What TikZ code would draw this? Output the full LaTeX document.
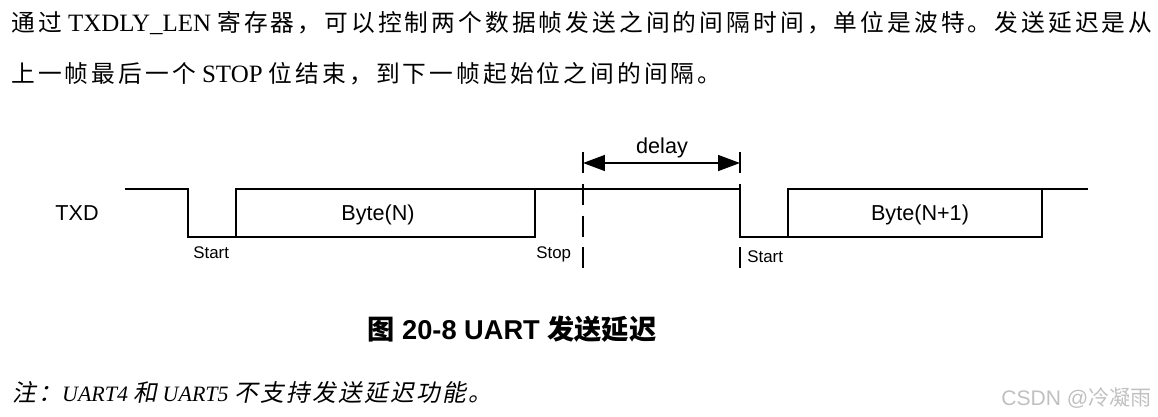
\documentclass[tikz,border=0pt]{standalone}
\usepackage{fontspec}
\setmainfont{Liberation Serif}
\setsansfont{Liberation Sans}
\newfontfamily\cjk{Noto Sans CJK SC}[LetterSpace=13]
\newfontfamily\cjkit{Noto Sans CJK SC}[LetterSpace=10, FakeSlant=0.2]
\newfontfamily\cjkplain{Noto Sans CJK SC}
\usetikzlibrary{arrows.meta}
\definecolor{wmgray}{RGB}{192,192,192}
\tikzset{
  sigln/.style={line width=1.15pt, line join=miter},
  gapln/.style={line width=1.3pt, dash pattern=on 11.9pt off 6.2pt},
  delayarr/.style={{Triangle[length=12.5pt,width=9pt]}-{Triangle[length=12.5pt,width=9pt]},
    line width=1.2pt},
  sigtxt/.style={font=\sffamily\fontsize{12.3pt}{14pt}\selectfont, inner sep=0pt},
  bittxt/.style={font=\sffamily\fontsize{9.6pt}{11pt}\selectfont, inner sep=0pt},
  bodytxt/.style={font=\fontsize{14.2pt}{17pt}\selectfont, inner sep=0pt, anchor=base west},
}
\newcommand{\zh}[1]{{\fontsize{13.5pt}{16pt}\selectfont\cjk #1}}
\newcommand{\zhit}[1]{{\fontsize{13.5pt}{16pt}\selectfont\cjkit #1}}

\begin{document}
\begin{tikzpicture}[x=0.02cm, y=-0.02cm]
    \useasboundingbox (0,0) rectangle (1158,416);
    % intro paragraph
    \node[bodytxt] (introa) at (11,31.7)
      {\zh{通过} TXDLY\_LEN \zh{寄存器，可以控制两个数据帧发送之间的间隔时间，单位是波特。发送延迟是从}};
    \node[bodytxt] (introb) at (11,82.7)
      {\zh{上一帧最后一个} STOP \zh{位结束，到下一帧起始位之间的间隔。}};
    % TXD waveform, two frames
    \draw[sigln] (125,189) -| (188,237) -| (236,189) -- (535,189) -- (535,237) -- (236,237);
    \draw[sigln] (535,189) -- (740,189) -- (740,237) -- (788,237) -- (788,189)
      -- (1042,189) -- (1042,237) -- (788,237);
    \draw[sigln] (1042,189) -- (1088,189);
    % end of stop bit and next start bit
    \coordinate (stopend) at (583,152);
    \coordinate (nextstart) at (740,152);
    \draw[gapln] (stopend) -- ++(0,117);
    \draw[gapln] (nextstart) -- ++(0,117);
    % delay span
    \coordinate (dla) at (583,163);
    \coordinate (dlb) at (740,163);
    \draw[delayarr] (dla) -- (dlb);
    \node[sigtxt, anchor=base] (delaylbl) at (662,153) {delay};
    % labels
    \node[sigtxt, anchor=base] (txdlbl) at (77,220) {TXD};
    \node[sigtxt, anchor=base] (bytecur) at (378,220) {Byte(N)};
    \node[sigtxt, anchor=base] (bytenext) at (920,220) {Byte(N+1)};
    \node[bittxt, anchor=base west] (starta) at (193,258.3) {Start};
    \node[bittxt, anchor=base west] (stopa) at (536,258.5) {Stop};
    \node[bittxt, anchor=base west] (startb) at (747,262.3) {Start};
    % caption
    \node[inner sep=0pt, anchor=base west, font=\sffamily\bfseries\fontsize{15.5pt}{18pt}\selectfont]
      (caption) at (367,339) {{\cjkplain 图} 20-8 UART {\cjkplain 发送延迟}};
    % note
    \node[bodytxt, font=\itshape\fontsize{12.5pt}{15pt}\selectfont] (note) at (12,401.7)
      {\zhit{注：}UART4 \zhit{和} UART5 \zhit{不支持发送延迟功能。}};
    % watermark
    \node[inner sep=0pt, anchor=base east, text=wmgray, font=\sffamily\fontsize{12pt}{14pt}\selectfont]
      (mark) at (1152,405) {CSDN @{\cjkplain 冷凝雨}};
\end{tikzpicture}
\end{document}
